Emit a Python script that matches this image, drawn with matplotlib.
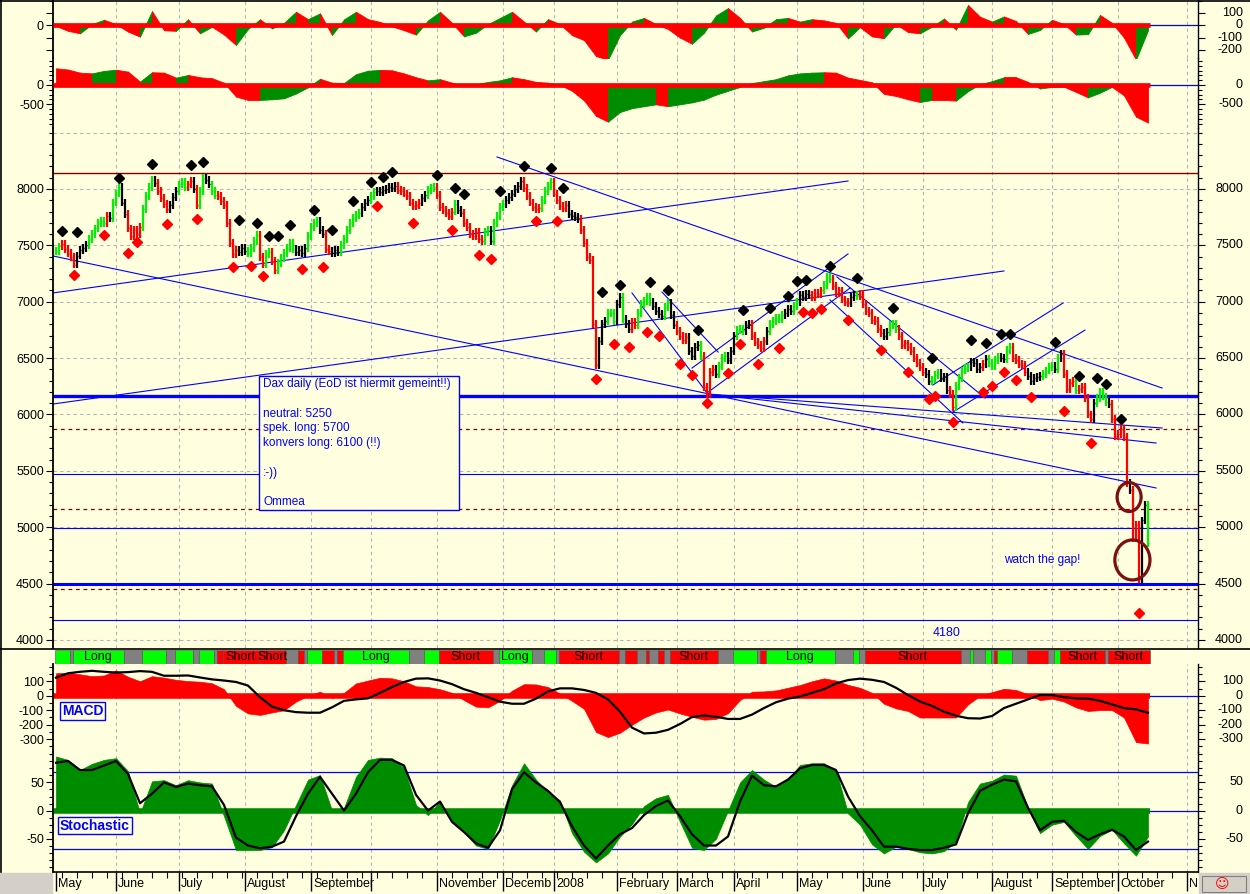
import numpy as np
import matplotlib.pyplot as plt
import matplotlib.transforms as mtransforms
from matplotlib.patches import Ellipse, Rectangle
from matplotlib.lines import Line2D
from matplotlib.ticker import MultipleLocator

plt.rcParams['font.family'] = ['Liberation Sans', 'DejaVu Sans']
plt.rcParams['font.size'] = 9
plt.rcParams['axes.unicode_minus'] = False

W, H = 1250, 894
BG = '#FFFFE0'
BLUE = '#0000FF'
RED = '#FF0000'
DKRED = '#800000'
DKGREEN = '#008C00'
GRID = '#B4B4B4'

# ---------------- data: DAX daily, May 2007 - Oct 2008 (trading-day index) ----------------
close = [
    7450, 7490, 7510, 7470, 7430, 7400, 7330, 7410, 7460, 7480,
    7500, 7560, 7600, 7650, 7700, 7720, 7700, 7760, 7740, 7880,
    7960, 8020, 7880, 7780, 7650, 7580, 7640, 7600, 7660, 7820,
    7940, 8020, 8080, 8050, 7980, 7920, 7870, 7820, 7860, 7930,
    7980, 8040, 8060, 8020, 8040, 8070, 8000, 7860, 7980, 8100,
    8080, 8040, 7980, 7950, 7940, 7890, 7860, 7700, 7520, 7420,
    7460, 7440, 7480, 7450, 7430, 7480, 7540, 7590, 7400, 7330,
    7420, 7440, 7360, 7280, 7340, 7390, 7430, 7480, 7520, 7470,
    7440, 7460, 7430, 7480, 7580, 7660, 7700, 7720, 7640, 7600,
    7470, 7450, 7430, 7460, 7440, 7500, 7560, 7640, 7700, 7740,
    7770, 7790, 7840, 7880, 7900, 7940, 7970, 7980, 7970, 7990,
    8000, 8020, 8010, 8030, 7990, 7980, 7960, 7940, 7880, 7850,
    7860, 7880, 7920, 7950, 7990, 8010, 8020, 7950, 7840, 7810,
    7790, 7760, 7800, 7870, 7810, 7790, 7700, 7660, 7600, 7580,
    7620, 7560, 7540, 7620, 7640, 7540, 7700, 7760, 7840, 7870,
    7900, 7930, 7960, 8000, 8030, 8070, 8010, 7940, 7880, 7840,
    7820, 7830, 7900, 7980, 8030, 8060, 7960, 7900, 7850, 7830,
    7860, 7780, 7760, 7750, 7730, 7640, 7520, 7400, 7370, 6800,
    6440, 6650, 6800, 6830, 6900, 6900, 6830, 6980, 7040, 6850,
    6800, 6760, 6820, 6790, 6900, 6980, 7010, 7040, 7000, 6960,
    6920, 6890, 6870, 6950, 6990, 6880, 6790, 6740, 6700, 6660,
    6690, 6560, 6520, 6600, 6620, 6520, 6240, 6180, 6380, 6400,
    6360, 6430, 6500, 6520, 6480, 6560, 6700, 6750, 6760, 6740,
    6790, 6800, 6700, 6640, 6620, 6590, 6650, 6740, 6800, 6830,
    6860, 6850, 6880, 6900, 6940, 6920, 6960, 7000, 7060, 7040,
    7070, 7060, 7040, 7080, 7070, 7100, 7150, 7220, 7200, 7140,
    7080, 7100,
    7020, 7000, 6990, 7040, 7060, 7050, 7070, 6980, 6920, 6900,
    6840, 6830, 6760, 6720, 6700, 6730, 6790, 6800, 6760, 6700,
    6620, 6630, 6600, 6560, 6500, 6460, 6420, 6380, 6360, 6300,
    6310, 6350, 6370, 6320, 6330, 6220, 6180, 6070, 6250, 6320,
    6390, 6410, 6420, 6470, 6460, 6400, 6420, 6450, 6490, 6460,
    6430, 6480, 6510, 6500, 6490, 6570, 6600, 6500, 6480, 6450,
    6440, 6380, 6340, 6300, 6320, 6330, 6340, 6360, 6390, 6420,
    6430, 6400, 6500, 6540, 6360, 6230, 6280, 6300, 6220, 6230,
    6240, 6150, 6000, 5960, 6100, 6150, 6200, 6160, 6110, 6090,
    5960, 5810, 5830, 5870, 5800, 5390, 5330, 4900, 5020, 4540,
    5060, 5200, 4860,
]

# bar colour runs: g = trend up, r = trend down, k = neutral
bar_runs = [
    ('g', 2), ('r', 5), ('k', 4), ('g', 6), ('r', 1), ('k', 1), ('g', 3), ('k', 2), ('r', 5), ('g', 4),
    ('k', 1), ('r', 4), ('k', 3), ('g', 3), ('r', 2), ('k', 1), ('r', 1), ('g', 2), ('k', 2), ('g', 2),
    ('r', 7), ('k', 3), ('g', 4), ('r', 2), ('g', 2), ('r', 2), ('g', 6), ('k', 4), ('g', 4), ('k', 2),
    ('r', 2), ('k', 3), ('g', 7), ('k', 3), ('g', 2), ('k', 7), ('r', 8), ('k', 2), ('g', 3), ('r', 6),
    ('g', 1), ('k', 2), ('r', 7), ('g', 2), ('k', 1), ('g', 4), ('k', 6), ('r', 6), ('g', 4), ('r', 5),
    ('k', 4), ('r', 6), ('k', 3), ('g', 3), ('k', 2), ('g', 1), ('k', 2), ('r', 2), ('g', 5), ('k', 4),
    ('g', 2), ('k', 2), ('r', 4), ('k', 4), ('g', 1), ('r', 4), ('k', 1), ('g', 3), ('k', 3), ('g', 3),
    ('k', 2), ('r', 5), ('k', 1), ('g', 5), ('k', 3), ('g', 2), ('k', 4), ('r', 4), ('g', 3), ('r', 6),
    ('k', 2), ('g', 1), ('r', 8), ('k', 2), ('g', 3), ('r', 9), ('k', 2), ('g', 3), ('k', 3), ('r', 2),
    ('g', 5), ('k', 4), ('r', 1), ('k', 1), ('g', 4), ('k', 2), ('g', 2), ('r', 5), ('k', 5), ('g', 4),
    ('k', 1), ('g', 1), ('k', 1), ('r', 4), ('g', 1), ('r', 5), ('k', 1), ('g', 4), ('k', 1), ('r', 6),
    ('k', 1), ('r', 3), ('k', 2), ('g', 1),
]

hi_idx = [2, 7, 21, 32, 45, 49, 61, 67, 71, 74, 78, 86, 92, 99, 105, 109, 112, 127, 133, 136,
          148, 156, 165, 169, 182, 188, 198, 204, 214, 229, 238, 244, 247, 250, 258, 267, 279, 292, 305, 310,
          315, 318, 333, 341, 347, 350, 355]
hi_val = [7631, 7619, 8101, 8222, 8213, 8240, 7725, 7699, 7583, 7583, 7681, 7817, 7636, 7894, 8062, 8107, 8151, 8127, 8012, 7959,
          7982, 8207, 8186, 8012, 7087, 7152, 7172, 7104, 6750, 6927, 6948, 7051, 7184, 7193, 7317, 7214, 6948, 6504, 6664, 6632,
          6711, 6717, 6646, 6345, 6327, 6274, 5963]
lo_idx = [6, 16, 24, 27, 37, 47, 59, 65, 69, 82, 89, 107, 119, 132, 141, 145, 160, 167, 180, 186,
          191, 197, 201, 208, 212, 217, 224, 228, 234, 241, 249, 252, 255, 264, 275, 284, 291, 293, 299, 309,
          312, 316, 320, 325, 336, 345, 361]
lo_val = [7237, 7592, 7435, 7533, 7690, 7734, 7308, 7320, 7229, 7291, 7308, 7849, 7700, 7639, 7415, 7382, 7719, 7719, 6315, 6629,
          6596, 6735, 6696, 6448, 6353, 6105, 6368, 6625, 6448, 6593, 6909, 6903, 6939, 6838, 6575, 6380, 6141, 6167, 5937, 6203,
          6256, 6380, 6309, 6158, 6034, 5750, 4242]

# indicators, sampled every 4th trading day
IND_STEP = 4
osc_fast = [
    -5, -45, -65, 10, 45, 10, -51, -92, 115, -40,
    -45, 49, -65, -12, -75, -160, -30, 49, -25, 20,
    110, 50, 97, -79, 48, 110, 50, 28, -8, -40,
    -75, 40, 110, 20, -90, -60, 10, 60, 110, 30,
    -50, 50, 10, -80, -120, -250, -280, -80, 30, 60,
    10, -30, -100, -150, -60, 80, 140, 60, -50, -20,
    50, 60, 30, 50, 40, 20, -106, -15, -90, -105,
    10, -55, -65, -10, 55, -35, 165, 70, 30, 72,
    35, -70, -38, 45, 10, -75, -72, 84, 20, -100,
    -280, -40,
]
osc_slow = [
    433, 400, 320, 300, 365, 395, 346, 86, 330, 320,
    190, 260, 200, 175, 60, -300, -387, -387, -370, -345,
    -220, -60, 160, 60, 50, 280, 370, 390, 380, 300,
    200, 120, 150, 60, -30, 20, 80, 120, 200, 150,
    80, 60, 0, -150, -400, -800, -950, -700, -600, -550,
    -500, -550, -500, -450, -380, -250, -150, -50, 50, 100,
    150, 250, 300, 320, 330, 320, 190, 130, 70, -230,
    -285, -370, -440, -387, -387, -404, -160, 20, 100, 200,
    200, 80, -90, -50, -45, -180, -320, -200, -50, -270,
    -820, -974,
]
macd = [
    155, 159, 148, 135, 140, 175, 131, 100, 135, 125,
    110, 101, 97, 86, 45, -70, -122, -132, -115, -100,
    -40, 0, 28, -15, 20, 85, 105, 124, 120, 100,
    65, 60, 45, 20, -30, -75, -80, -35, 35, 80,
    78, 60, 15, -35, -90, -250, -285, -255, -200, -150,
    -115, -95, -122, -145, -165, -160, -120, -30, 28, 30,
    37, 55, 74, 100, 120, 105, 75, 55, 20, -55,
    -87, -105, -150, -150, -150, -150, -60, 0, 25, 48,
    40, 10, -30, -20, -40, -80, -105, -99, -99, -150,
    -320, -329,
]
macd_signal = [
    125, 155, 165, 172, 165, 160, 163, 170, 165, 138,
    138, 140, 126, 113, 105, 95, 70, -10, -75, -100,
    -113, -117, -117, -80, -35, -25, -18, 20, 60, 95,
    118, 120, 105, 80, 45, 20, -10, -41, -55, -55,
    -20, 30, 51, 51, 40, 20, -25, -110, -220, -260,
    -255, -235, -195, -147, -136, -145, -160, -160, -130, -85,
    -45, -20, -5, 20, 45, 85, 108, 118, 110, 95,
    55, 5, -40, -70, -110, -138, -155, -157, -140, -85,
    -55, -25, 5, 5, -10, -18, -20, -35, -60, -85,
    -94, -117,
]
stoch = [
    96, 90, 72, 83, 90, 93, 70, -5, 52, 54,
    45, 54, 50, 48, -10, -70, -70, -70, -65, -35,
    10, 55, 63, 0, 5, 60, 90, 94, 93, 76,
    10, -8, 16, -20, -38, -62, -68, -17, 45, 84,
    55, 33, 18, -40, -73, -92, -76, -46, -24, 8,
    22, 28, -20, -66, -70, -50, 0, 50, 72, 55,
    42, 55, 81, 84, 84, 72, -5, -25, -60, -76,
    -64, -68, -74, -76, -72, -55, 15, 48, 53, 64,
    62, 5, -40, -25, -20, -45, -68, -45, -34, -58,
    -80, -46,
]
stoch_signal = [
    85, 88, 72, 72, 80, 88, 65, 13, 30, 50,
    42, 48, 45, 43, 10, -48, -62, -67, -64, -55,
    -10, 30, 60, 30, 0, 30, 68, 90, 90, 80,
    28, 0, 16, -20, -38, -58, -66, -35, 38, 68,
    50, 35, 15, -28, -62, -85, -62, -42, -31, -8,
    8, 18, -10, -42, -62, -62, -46, 16, 62, 45,
    43, 55, 75, 81, 81, 72, 25, -10, -35, -64,
    -64, -68, -70, -70, -66, -60, -5, 35, 46, 55,
    52, 5, -35, -20, -18, -38, -52, -42, -34, -46,
    -70, -55,
]

# long / short signal strip: (state, number of days, label)
signal_runs = [
    ('g', 5, ''), ('k', 1, ''), ('g', 17, 'Long'), ('k', 6, ''), ('g', 8, ''), ('k', 3, ''), ('g', 6, ''),
    ('k', 2, ''), ('g', 5, ''), ('k', 1, ''), ('r', 2, ''), ('r', 12, 'Short'), ('r', 9, 'Short'), ('k', 4, ''),
    ('r', 2, ''), ('k', 1, ''), ('g', 5, ''), ('r', 4, ''), ('k', 1, ''), ('r', 2, ''), ('g', 22, 'Long'),
    ('k', 5, ''), ('g', 5, ''), ('r', 18, 'Short'), ('k', 2, ''), ('g', 11, 'Long'), ('k', 4, ''), ('g', 4, ''),
    ('k', 1, ''), ('r', 20, 'Short'), ('k', 2, ''), ('r', 4, ''), ('k', 3, ''), ('r', 1, ''), ('k', 3, ''),
    ('r', 2, ''), ('k', 2, ''), ('r', 16, 'Short'), ('k', 5, ''), ('g', 8, ''), ('k', 1, ''), ('r', 2, ''),
    ('g', 23, 'Long'), ('k', 6, ''), ('g', 2, ''), ('k', 2, ''), ('r', 32, 'Short'), ('k', 3, ''), ('g', 1, ''),
    ('k', 4, ''), ('g', 2, ''), ('k', 1, ''), ('r', 1, ''), ('g', 5, ''), ('k', 5, ''), ('r', 7, ''),
    ('k', 2, ''), ('g', 2, ''), ('r', 15, 'Short'), ('k', 1, ''), ('r', 14, 'Short'),
]

month_idx = [0, 20, 41, 63, 85, 105, 127, 149, 166, 187, 207, 226, 247, 269, 289, 312, 332, 354, 377]
month_lbl = ['May', 'June', 'July', 'August', 'September', '', 'November', 'Decemb', '2008', 'February',
             'March', 'April', 'May', 'June', 'July', 'August', 'September', 'October', 'N']

# chart annotations (price levels and trend lines drawn by the author)
levels = [(8140, DKRED, 1.0, '-'), (6165, BLUE, 2.4, '-'), (5870, DKRED, 0.9, (0, (3, 3))),
          (5470, BLUE, 0.8, '-'), (5160, DKRED, 0.9, (0, (3, 3))), (4995, BLUE, 0.8, '-'),
          (4495, BLUE, 2.2, '-'), (4450, DKRED, 0.9, (0, (3, 3))), (4180, BLUE, 0.8, '-')]
trend_lines = [((-1, 7406), (366.7, 5348)), ((-1, 6093), (316, 7273)), ((-1, 7078), (264, 8071)),
               ((147, 8284), (368.7, 6235)), ((217, 6182), (368.7, 5880)), ((217, 6182), (366.7, 5747)),
               ((192, 7078), (217, 6191)), ((202, 7086), (220.7, 6554)), ((217, 6191), (264.7, 7122)),
               ((212, 6412), (264, 7424)), ((260.3, 7220), (309.7, 6146)), ((258, 7016), (302.3, 5925)),
               ((292.3, 6262), (335.7, 6989)), ((299, 6022), (343, 6749))]
circles = [((357.7, 5268), 8, 257), ((358.8, 4710), 11.7, 355)]
note_lines = ['Dax daily (EoD ist hiermit gemeint!!)', '', 'neutral: 5250', 'spek. long: 5700',
              'konvers long: 6100 (!!)', '', ':-))', '', 'Ommea']

# ---------------- figure ----------------
fig = plt.figure(figsize=(W / 100, H / 100), dpi=100)
fig.patch.set_facecolor(BG)

X_LEFT, X_RIGHT = 53, 1198
XMIN, XMAX = -1, (X_RIGHT - 56) / 3
n = len(close)
last = n - 1
ind_x = np.arange(0, n, IND_STEP)


def fx(px):
    return px / W


def fy(py):
    return 1 - py / H


def panel(top, bottom, ylim, major, minor, left_lbl, right_lbl, grid=True):
    ax = fig.add_axes([fx(X_LEFT), fy(bottom), (X_RIGHT - X_LEFT) / W, (bottom - top) / H])
    ax.set_facecolor('none')
    ax.set_xlim(XMIN, XMAX)
    ax.set_ylim(*ylim)
    ax.spines['top'].set_visible(False)
    ax.spines['bottom'].set_visible(False)
    ax.spines['left'].set_linewidth(1.3)
    ax.spines['right'].set_linewidth(1.0)
    ax.set_xticks([])
    ax.set_yticks(major, labels=[str(v) if v in left_lbl else '' for v in major])
    ax.yaxis.set_minor_locator(MultipleLocator(minor))
    ax.tick_params(axis='y', which='both', direction='out', left=True, right=True,
                   labelleft=True, labelright=False, labelsize=9, pad=1.5, width=0.8)
    ax.tick_params(axis='y', which='major', length=5)
    ax.tick_params(axis='y', which='minor', length=3)
    tr = mtransforms.blended_transform_factory(fig.transFigure, ax.transData)
    for v in right_lbl:
        ax.text(fx(1243), v, str(v), transform=tr, ha='right', va='center', fontsize=9)
    if grid:
        for m in month_idx[1:]:
            ax.axvline(m, color=GRID, lw=0.8, ls=(0, (3, 3)), zorder=0)
    return ax


def slope_hist(ax, vals):
    v = np.array(vals, float)
    for k in range(len(v) - 1):
        col = DKGREEN if v[k + 1] > v[k] else RED
        ax.fill_between(ind_x[k:k + 2], v[k:k + 2], 0, color=col, lw=0.6, zorder=2)
    ax.plot([XMIN, last + 0.5], [0, 0], color=RED, lw=3.4, solid_capstyle='butt', zorder=3)
    ax.plot([last + 0.5, XMAX], [0, 0], color=BLUE, lw=0.9, zorder=3)


# top oscillators
ax1 = panel(0, 58, (-266, 206), [100, 0, -100, -200], 100, [0], [100, 0, -100, -200])
slope_hist(ax1, osc_fast)
ax2 = panel(58, 128, (-1114, 699), [0, -500], 125, [0, -500], [0, -500])
slope_hist(ax2, osc_slow)

# price panel
axm = panel(128, 648, (3929, 8541), list(range(4000, 8001, 500)), 100,
            list(range(4000, 8001, 500)), list(range(4000, 8001, 500)))
for p in range(4000, 8501, 500):
    axm.axhline(p, color=GRID, lw=0.8, ls=(0, (3, 3)), zorder=0)
for price, col, lw, ls in levels:
    axm.axhline(price, color=col, lw=lw, ls=ls, zorder=1)
for (i0, p0), (i1, p1) in trend_lines:
    axm.plot([i0, i1], [p0, p1], color=BLUE, lw=0.8, zorder=1)

# bars: open taken as previous close, drawn with some intraday overhang
c = np.array(close, float)
o = np.r_[c[0], c[:-1]]
lo = np.minimum(o, c) - 35
hi = np.maximum(o, c) + 35
bar_cmap = {'g': '#00F000', 'r': RED, 'k': 'black'}
bar_cols = []
for code, cnt in bar_runs:
    bar_cols += [bar_cmap[code]] * cnt
bar_cols = (bar_cols + ['black'] * n)[:n]
xi = np.arange(n)
axm.vlines(xi, lo, hi, colors=bar_cols, lw=1.6, zorder=3)
axm.hlines(c, xi, xi + 0.45, colors=bar_cols, lw=1.0, zorder=3)
axm.plot(hi_idx, hi_val, 'D', ms=5, color='black', zorder=4)
axm.plot(lo_idx, lo_val, 'D', ms=5, color=RED, zorder=4)
for (ci, cp), cw, ch in circles:
    axm.add_patch(Ellipse((ci, cp), cw, ch, fill=False, ec='#7A1010', lw=2.3, zorder=5))

# note box
fig.add_artist(Rectangle((fx(259), fy(510)), 200 / W, 134 / H, transform=fig.transFigure,
                         facecolor=BG, edgecolor=BLUE, lw=1.0, zorder=5))
for k, line in enumerate(note_lines):
    if line:
        fig.text(fx(263), fy(384 + 14.8 * k), line, color=BLUE, fontsize=8.5, va='center', ha='left', zorder=6)
fig.text(fx(1004), fy(560), 'watch the gap!', color=BLUE, fontsize=8.5, va='center', ha='left')
fig.text(fx(933), fy(633), '4180', color=BLUE, fontsize=9, va='center', ha='left')

# signal strip
axs = fig.add_axes([fx(X_LEFT), fy(664), (X_RIGHT - X_LEFT) / W, 14.5 / H])
axs.set_xlim(XMIN, XMAX)
axs.set_ylim(0, 1)
axs.axis('off')
sig_cmap = {'g': '#00FF00', 'r': RED, 'k': '#808080'}
start = -0.5
for code, cnt, lbl in signal_runs:
    axs.bar(start, 1, width=cnt, align='edge', color=sig_cmap[code], edgecolor='#505050', lw=0.4)
    if lbl:
        axs.text(start + cnt / 2, 0.5, lbl, ha='center', va='center', fontsize=9, color='black')
    start += cnt

# MACD
axc = panel(664, 752, (-388, 219), [100, 0, -100, -200, -300], 50,
            [100, 0, -100, -200, -300], [100, 0, -100, -200, -300])
axc.fill_between(ind_x, macd, 0, color=RED, lw=0.5, zorder=2)
axc.plot([XMIN, last + 0.5], [0, 0], color=RED, lw=4, solid_capstyle='butt', zorder=2)
axc.plot([last + 0.5, XMAX], [0, 0], color=BLUE, lw=0.9, zorder=2)
axc.plot(ind_x, macd_signal, color='black', lw=1.6, zorder=3)
fig.text(fx(62), fy(711), 'MACD', color=BLUE, fontsize=10, fontweight='bold', va='center', ha='left',
         bbox=dict(boxstyle='square,pad=0.12', facecolor=BG, edgecolor=BLUE, lw=1.0))

# stochastic
axt = panel(752, 872, (-109, 104), [50, 0, -50], 12.5, [50, 0, -50], [50, 0, -50])
for lv in (69, -69):
    axt.axhline(lv, color=BLUE, lw=0.9, zorder=1)
axt.fill_between(ind_x, stoch, 0, color=DKGREEN, lw=0.5, zorder=2)
axt.plot([XMIN, last + 0.5], [0, 0], color=DKGREEN, lw=4, solid_capstyle='butt', zorder=2)
axt.plot([last + 0.5, XMAX], [0, 0], color=BLUE, lw=0.9, zorder=2)
axt.plot(ind_x, stoch_signal, color='black', lw=1.6, zorder=3)
fig.text(fx(60), fy(825.5), 'Stochastic', color=BLUE, fontsize=10, fontweight='bold', va='center', ha='left',
         bbox=dict(boxstyle='square,pad=0.12', facecolor=BG, edgecolor=BLUE, lw=1.0))

# date axis
axt.spines['bottom'].set_visible(True)
axt.spines['bottom'].set_linewidth(1.2)
axt.set_xticks(month_idx)
axt.set_xticklabels([])
axt.set_xticks(np.arange(2, XMAX, 5), minor=True)
axt.tick_params(axis='x', which='major', direction='out', length=14, width=1.0, bottom=True)
axt.tick_params(axis='x', which='minor', direction='out', length=4, width=0.8, bottom=True)
trx = mtransforms.blended_transform_factory(axt.transData, fig.transFigure)
for m, lbl in zip(month_idx, month_lbl):
    if lbl:
        axt.text(m + 0.7, fy(884), lbl, transform=trx, ha='left', va='center', fontsize=9, clip_on=False)

# frame pieces
fig.add_artist(Line2D([0, 1], [fy(0.5), fy(0.5)], color='black', lw=1.2, transform=fig.transFigure))
fig.add_artist(Line2D([fx(0.7), fx(0.7)], [fy(0), fy(872)], color='black', lw=1.2, transform=fig.transFigure))
fig.add_artist(Line2D([0, 1], [fy(649), fy(649)], color='black', lw=1.2, transform=fig.transFigure))
fig.add_artist(Rectangle((0, 0), fx(52), 21 / H, transform=fig.transFigure, color='#D4D0C8'))
fig.add_artist(Rectangle((fx(1199), 0), 51 / W, 21 / H, transform=fig.transFigure, color='#D4D0C8'))
fig.add_artist(Rectangle((fx(1202), fy(892)), 44 / W, 16 / H, transform=fig.transFigure,
                         facecolor='#D4D0C8', edgecolor='#808080', lw=0.8))
fig.text(fx(1222), fy(884), '\u263a', color=RED, fontsize=10, ha='center', va='center', family='DejaVu Sans')

fig.savefig('out.png', dpi=100, facecolor=BG)
